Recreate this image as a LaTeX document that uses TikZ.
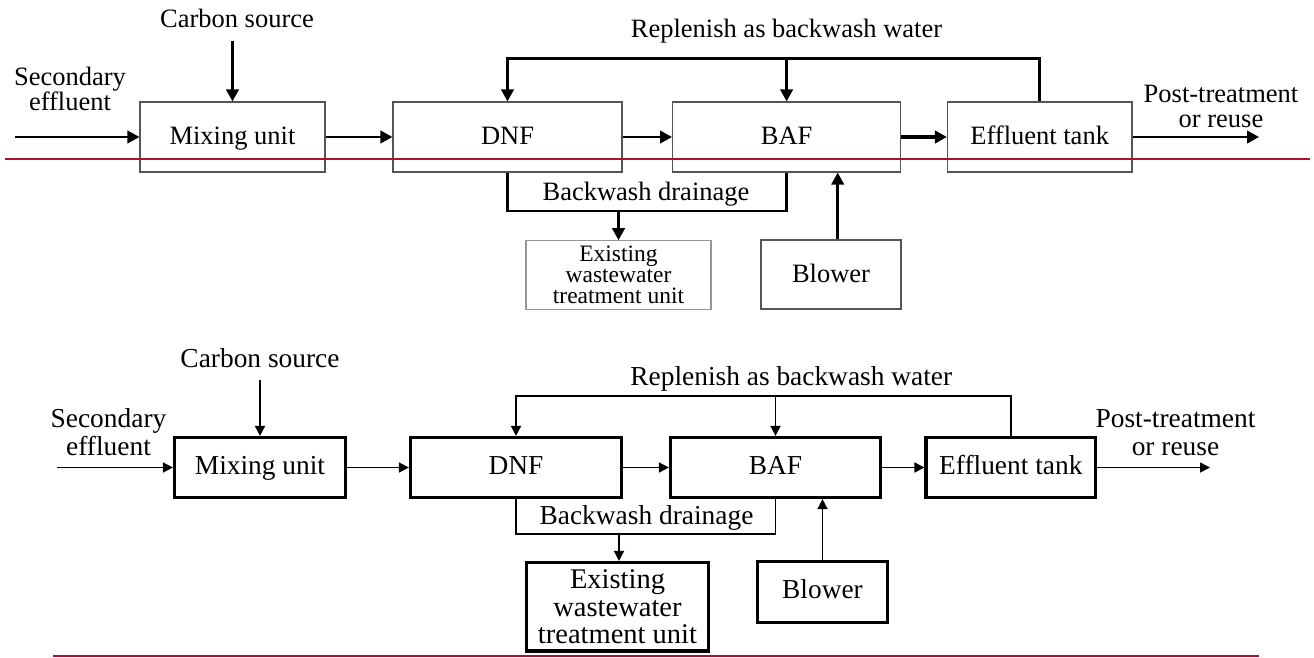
\documentclass[tikz,border=0pt]{standalone}
\usepackage{fontspec}
\setmainfont{Liberation Serif}
\usetikzlibrary{arrows.meta,calc}
\definecolor{boxgray}{RGB}{85,85,85}
\definecolor{lightbox}{RGB}{150,150,150}
\definecolor{rulered}{RGB}{176,18,46}
\newcommand{\fA}{\fontsize{26.5}{25}\selectfont}
\newcommand{\fB}{\fontsize{27.4}{28}\selectfont}
\newcommand{\fAs}{\fontsize{23.5}{21}\selectfont}
\newcommand{\fBs}{\fontsize{28.5}{27.5}\selectfont}
\tikzset{
  boxA/.style={draw=boxgray, line width=1.2pt, fill=white, inner sep=0pt, font=\fA, text height=17.5pt, text depth=2pt},
  exboxA/.style={draw=lightbox, line width=1.2pt, fill=white, inner sep=0pt, font=\fAs, align=center},
  boxB/.style={draw=black, line width=3.2pt, fill=white, inner sep=0pt, font=\fB, text height=18pt, text depth=5pt},
  exboxB/.style={draw=black, line width=3.2pt, fill=white, inner sep=0pt, font=\fBs, align=center},
  lineA/.style={draw=black, line width=2.6pt, -{Triangle[length=12pt,width=12.5pt]}},
  plainA/.style={draw=black, line width=2.6pt},
  lineB/.style={draw=black, line width=1.6pt, -{Triangle[length=10pt,width=10pt]}},
  plainB/.style={draw=black, line width=1.6pt},
  labA/.style={font=\fA, inner sep=0pt, align=center},
  labB/.style={font=\fB, inner sep=0pt, align=center},
  redrule/.style={draw=rulered, line width=2.4pt}
}
\begin{document}
\begin{tikzpicture}[x=1pt,y=-1pt]
\useasboundingbox (0,0) rectangle (1314,657);
% ---------------- top diagram ----------------
\node[boxA, minimum width=185pt, minimum height=70pt] (mixA) at (232.5,137) {Mixing unit};
\node[boxA, minimum width=229pt, minimum height=70pt] (dnfA) at (507.5,137) {DNF};
\node[boxA, minimum width=228pt, minimum height=70pt] (bafA) at (786.6,137) {BAF};
\node[boxA, minimum width=184.5pt, minimum height=70pt] (effA) at (1039.7,137) {Effluent tank};
\node[exboxA, minimum width=185pt, minimum height=68.5pt] (exA) at (618.5,275) {Existing\\wastewater\\treatment unit};
\node[boxA, minimum width=140pt, minimum height=69pt] (blwA) at (831,274.5) {Blower};

\node[labA, anchor=base] (carbTA) at (237,27) {Carbon source};
\node[labA, anchor=base] (repTA) at (786.5,37) {Replenish as backwash water};
\node[labA, anchor=base] (bwTA) at (646,200) {Backwash drainage};
\node[labA] (secTA) at (70,88.5) {Secondary\\effluent};
\node[labA] (postTA) at (1221,106.8) {Post-treatment\\or reuse};

\coordinate (inA) at (15,137);
\coordinate (outA) at (1259,137);
\coordinate (carbA) at (232.5,41);
\coordinate (repA) at (0,58.3);
\coordinate (bwA) at (0,211);

\draw[lineA] (inA) -- (mixA.west);
\draw[lineA] (mixA.east) -- (dnfA.west);
\draw[lineA] (dnfA.east) -- (bafA.west);
\draw[lineA, line width=3.6pt] (bafA.east) -- (effA.west);
\draw[lineA] (effA.east) -- (outA);
\draw[lineA] (carbA) -- (mixA.north);
\draw[lineA] (effA.north) -- (effA.north |- repA) -- (dnfA.north |- repA) -- (dnfA.north);
\draw[lineA] (bafA.north |- repA) -- (bafA.north);
\draw[plainA] (dnfA.south) -- (dnfA.south |- bwA) -- (bafA.south |- bwA) -- (bafA.south);
\draw[lineA] (exA.north |- bwA) -- (exA.north);
\draw[lineA] ([xshift=6.7pt]blwA.north) -- ([xshift=6.7pt]blwA.north |- bafA.south);

\coordinate (ruleAl) at (5,159);
\coordinate (ruleAr) at (1310,159);
\draw[redrule] (ruleAl) -- (ruleAr);

% ---------------- bottom diagram ----------------
\node[boxB, minimum width=171pt, minimum height=60pt] (mixB) at (260,467.5) {Mixing unit};
\node[boxB, minimum width=211pt, minimum height=60pt] (dnfB) at (516,467.5) {DNF};
\node[boxB, minimum width=210pt, minimum height=60pt] (bafB) at (775.5,467.5) {BAF};
\node[boxB, minimum width=169.5pt, minimum height=60pt] (effB) at (1010.8,467.5) {Effluent tank};
\node[exboxB, minimum width=182pt, minimum height=88.5pt] (exB) at (617.5,606.8) {Existing\\wastewater\\treatment unit};
\node[boxB, minimum width=130pt, minimum height=61pt] (blwB) at (822.5,592) {Blower};

\node[labB, anchor=base] (carbTB) at (260,367) {Carbon source};
\node[labB, anchor=base] (repTB) at (791.3,385) {Replenish as backwash water};
\node[labB, anchor=base] (bwTB) at (646.5,524) {Backwash drainage};
\node[labB] (secTB) at (108.5,431.7) {Secondary\\effluent};
\node[labB] (postTB) at (1175.5,432.4) {Post-treatment\\or reuse};

\coordinate (inB) at (57,467.5);
\coordinate (outB) at (1210,467.5);
\coordinate (carbB) at (260,380);
\coordinate (repB) at (0,395.7);
\coordinate (bwB) at (0,534);

\draw[lineB] (inB) -- (mixB.west);
\draw[lineB] (mixB.east) -- (dnfB.west);
\draw[lineB] (dnfB.east) -- (bafB.west);
\draw[lineB] (bafB.east) -- (effB.west);
\draw[lineB] (effB.east) -- (outB);
\draw[lineB] (carbB) -- (mixB.north);
\draw[lineB] (effB.north) -- (effB.north |- repB) -- (dnfB.north |- repB) -- (dnfB.north);
\draw[lineB] (bafB.north |- repB) -- (bafB.north);
\draw[plainB] (dnfB.south) -- (dnfB.south |- bwB) -- (bafB.south |- bwB) -- (bafB.south);
\draw[lineB] ([xshift=1.5pt]exB.north |- bwB) -- ([xshift=1.5pt]exB.north);
\draw[lineB] (blwB.north) -- (blwB.north |- bafB.south);

\coordinate (ruleBl) at (53,655.7);
\coordinate (ruleBr) at (1259,655.7);
\draw[redrule] (ruleBl) -- (ruleBr);
\end{tikzpicture}
\end{document}
